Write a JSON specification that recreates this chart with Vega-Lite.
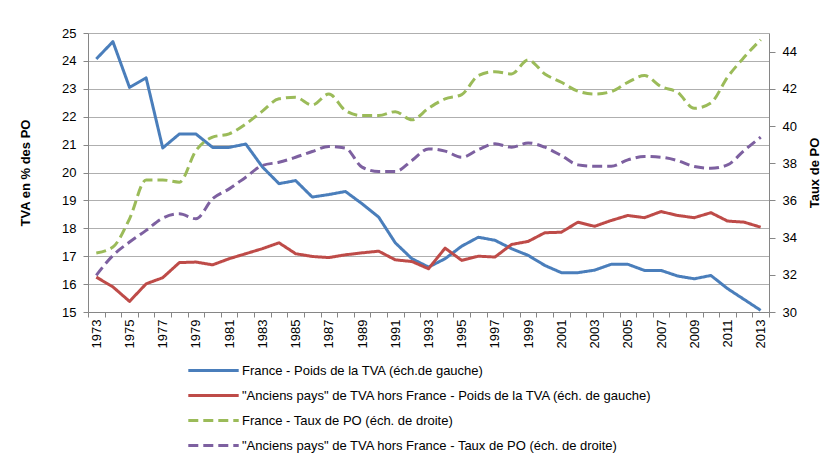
{
  "$schema": "https://vega.github.io/schema/vega-lite/v6.json",
  "autosize": {"type": "none"},
  "padding": {"left": 88, "top": 33, "right": 67, "bottom": 147},
  "width": 681,
  "height": 279,
  "background": "white",
  "config": {
    "view": {"stroke": null},
    "font": "Liberation Sans",
    "axis": {"labelFont": "Liberation Sans", "titleFont": "Liberation Sans", "labelColor": "#000000", "titleColor": "#000000", "labelFontSize": 13, "titleFontSize": 13, "titleFontWeight": "bold", "domainColor": "#868686", "tickColor": "#868686", "gridColor": "#AFAFAF", "gridWidth": 1, "domainWidth": 1, "tickWidth": 1},
    "legend": {"labelFont": "Liberation Sans", "labelFontSize": 13, "labelColor": "#000000"}
  },
  "datasets": {
    "tva": [
      {"year": 1973, "series": "France - Poids de la TVA (éch.de gauche)", "value": 24.07},
      {"year": 1974, "series": "France - Poids de la TVA (éch.de gauche)", "value": 24.69},
      {"year": 1975, "series": "France - Poids de la TVA (éch.de gauche)", "value": 23.05},
      {"year": 1976, "series": "France - Poids de la TVA (éch.de gauche)", "value": 23.39},
      {"year": 1977, "series": "France - Poids de la TVA (éch.de gauche)", "value": 20.88},
      {"year": 1978, "series": "France - Poids de la TVA (éch.de gauche)", "value": 21.38},
      {"year": 1979, "series": "France - Poids de la TVA (éch.de gauche)", "value": 21.38},
      {"year": 1980, "series": "France - Poids de la TVA (éch.de gauche)", "value": 20.9},
      {"year": 1981, "series": "France - Poids de la TVA (éch.de gauche)", "value": 20.9},
      {"year": 1982, "series": "France - Poids de la TVA (éch.de gauche)", "value": 21.02},
      {"year": 1983, "series": "France - Poids de la TVA (éch.de gauche)", "value": 20.2},
      {"year": 1984, "series": "France - Poids de la TVA (éch.de gauche)", "value": 19.6},
      {"year": 1985, "series": "France - Poids de la TVA (éch.de gauche)", "value": 19.71},
      {"year": 1986, "series": "France - Poids de la TVA (éch.de gauche)", "value": 19.12},
      {"year": 1987, "series": "France - Poids de la TVA (éch.de gauche)", "value": 19.21},
      {"year": 1988, "series": "France - Poids de la TVA (éch.de gauche)", "value": 19.32},
      {"year": 1989, "series": "France - Poids de la TVA (éch.de gauche)", "value": 18.88},
      {"year": 1990, "series": "France - Poids de la TVA (éch.de gauche)", "value": 18.4},
      {"year": 1991, "series": "France - Poids de la TVA (éch.de gauche)", "value": 17.48},
      {"year": 1992, "series": "France - Poids de la TVA (éch.de gauche)", "value": 16.91},
      {"year": 1993, "series": "France - Poids de la TVA (éch.de gauche)", "value": 16.61},
      {"year": 1994, "series": "France - Poids de la TVA (éch.de gauche)", "value": 16.91},
      {"year": 1995, "series": "France - Poids de la TVA (éch.de gauche)", "value": 17.36},
      {"year": 1996, "series": "France - Poids de la TVA (éch.de gauche)", "value": 17.68},
      {"year": 1997, "series": "France - Poids de la TVA (éch.de gauche)", "value": 17.57},
      {"year": 1998, "series": "France - Poids de la TVA (éch.de gauche)", "value": 17.27},
      {"year": 1999, "series": "France - Poids de la TVA (éch.de gauche)", "value": 17.03},
      {"year": 2000, "series": "France - Poids de la TVA (éch.de gauche)", "value": 16.67},
      {"year": 2001, "series": "France - Poids de la TVA (éch.de gauche)", "value": 16.41},
      {"year": 2002, "series": "France - Poids de la TVA (éch.de gauche)", "value": 16.41},
      {"year": 2003, "series": "France - Poids de la TVA (éch.de gauche)", "value": 16.5},
      {"year": 2004, "series": "France - Poids de la TVA (éch.de gauche)", "value": 16.71},
      {"year": 2005, "series": "France - Poids de la TVA (éch.de gauche)", "value": 16.71},
      {"year": 2006, "series": "France - Poids de la TVA (éch.de gauche)", "value": 16.49},
      {"year": 2007, "series": "France - Poids de la TVA (éch.de gauche)", "value": 16.49},
      {"year": 2008, "series": "France - Poids de la TVA (éch.de gauche)", "value": 16.29},
      {"year": 2009, "series": "France - Poids de la TVA (éch.de gauche)", "value": 16.19},
      {"year": 2010, "series": "France - Poids de la TVA (éch.de gauche)", "value": 16.31},
      {"year": 2011, "series": "France - Poids de la TVA (éch.de gauche)", "value": 15.84},
      {"year": 2012, "series": "France - Poids de la TVA (éch.de gauche)", "value": 15.45},
      {"year": 2013, "series": "France - Poids de la TVA (éch.de gauche)", "value": 15.06},
      {"year": 1973, "series": "\"Anciens pays\" de TVA hors France - Poids de la TVA (éch. de gauche)", "value": 16.25},
      {"year": 1974, "series": "\"Anciens pays\" de TVA hors France - Poids de la TVA (éch. de gauche)", "value": 15.9},
      {"year": 1975, "series": "\"Anciens pays\" de TVA hors France - Poids de la TVA (éch. de gauche)", "value": 15.38},
      {"year": 1976, "series": "\"Anciens pays\" de TVA hors France - Poids de la TVA (éch. de gauche)", "value": 16.01},
      {"year": 1977, "series": "\"Anciens pays\" de TVA hors France - Poids de la TVA (éch. de gauche)", "value": 16.23},
      {"year": 1978, "series": "\"Anciens pays\" de TVA hors France - Poids de la TVA (éch. de gauche)", "value": 16.77},
      {"year": 1979, "series": "\"Anciens pays\" de TVA hors France - Poids de la TVA (éch. de gauche)", "value": 16.79},
      {"year": 1980, "series": "\"Anciens pays\" de TVA hors France - Poids de la TVA (éch. de gauche)", "value": 16.69},
      {"year": 1981, "series": "\"Anciens pays\" de TVA hors France - Poids de la TVA (éch. de gauche)", "value": 16.91},
      {"year": 1982, "series": "\"Anciens pays\" de TVA hors France - Poids de la TVA (éch. de gauche)", "value": 17.09},
      {"year": 1983, "series": "\"Anciens pays\" de TVA hors France - Poids de la TVA (éch. de gauche)", "value": 17.27},
      {"year": 1984, "series": "\"Anciens pays\" de TVA hors France - Poids de la TVA (éch. de gauche)", "value": 17.48},
      {"year": 1985, "series": "\"Anciens pays\" de TVA hors France - Poids de la TVA (éch. de gauche)", "value": 17.09},
      {"year": 1986, "series": "\"Anciens pays\" de TVA hors France - Poids de la TVA (éch. de gauche)", "value": 16.99},
      {"year": 1987, "series": "\"Anciens pays\" de TVA hors France - Poids de la TVA (éch. de gauche)", "value": 16.95},
      {"year": 1988, "series": "\"Anciens pays\" de TVA hors France - Poids de la TVA (éch. de gauche)", "value": 17.05},
      {"year": 1989, "series": "\"Anciens pays\" de TVA hors France - Poids de la TVA (éch. de gauche)", "value": 17.12},
      {"year": 1990, "series": "\"Anciens pays\" de TVA hors France - Poids de la TVA (éch. de gauche)", "value": 17.18},
      {"year": 1991, "series": "\"Anciens pays\" de TVA hors France - Poids de la TVA (éch. de gauche)", "value": 16.87},
      {"year": 1992, "series": "\"Anciens pays\" de TVA hors France - Poids de la TVA (éch. de gauche)", "value": 16.81},
      {"year": 1993, "series": "\"Anciens pays\" de TVA hors France - Poids de la TVA (éch. de gauche)", "value": 16.55},
      {"year": 1994, "series": "\"Anciens pays\" de TVA hors France - Poids de la TVA (éch. de gauche)", "value": 17.29},
      {"year": 1995, "series": "\"Anciens pays\" de TVA hors France - Poids de la TVA (éch. de gauche)", "value": 16.85},
      {"year": 1996, "series": "\"Anciens pays\" de TVA hors France - Poids de la TVA (éch. de gauche)", "value": 17.0},
      {"year": 1997, "series": "\"Anciens pays\" de TVA hors France - Poids de la TVA (éch. de gauche)", "value": 16.97},
      {"year": 1998, "series": "\"Anciens pays\" de TVA hors France - Poids de la TVA (éch. de gauche)", "value": 17.42},
      {"year": 1999, "series": "\"Anciens pays\" de TVA hors France - Poids de la TVA (éch. de gauche)", "value": 17.53},
      {"year": 2000, "series": "\"Anciens pays\" de TVA hors France - Poids de la TVA (éch. de gauche)", "value": 17.84},
      {"year": 2001, "series": "\"Anciens pays\" de TVA hors France - Poids de la TVA (éch. de gauche)", "value": 17.86},
      {"year": 2002, "series": "\"Anciens pays\" de TVA hors France - Poids de la TVA (éch. de gauche)", "value": 18.22},
      {"year": 2003, "series": "\"Anciens pays\" de TVA hors France - Poids de la TVA (éch. de gauche)", "value": 18.07},
      {"year": 2004, "series": "\"Anciens pays\" de TVA hors France - Poids de la TVA (éch. de gauche)", "value": 18.28},
      {"year": 2005, "series": "\"Anciens pays\" de TVA hors France - Poids de la TVA (éch. de gauche)", "value": 18.46},
      {"year": 2006, "series": "\"Anciens pays\" de TVA hors France - Poids de la TVA (éch. de gauche)", "value": 18.38},
      {"year": 2007, "series": "\"Anciens pays\" de TVA hors France - Poids de la TVA (éch. de gauche)", "value": 18.6},
      {"year": 2008, "series": "\"Anciens pays\" de TVA hors France - Poids de la TVA (éch. de gauche)", "value": 18.46},
      {"year": 2009, "series": "\"Anciens pays\" de TVA hors France - Poids de la TVA (éch. de gauche)", "value": 18.38},
      {"year": 2010, "series": "\"Anciens pays\" de TVA hors France - Poids de la TVA (éch. de gauche)", "value": 18.56},
      {"year": 2011, "series": "\"Anciens pays\" de TVA hors France - Poids de la TVA (éch. de gauche)", "value": 18.26},
      {"year": 2012, "series": "\"Anciens pays\" de TVA hors France - Poids de la TVA (éch. de gauche)", "value": 18.22},
      {"year": 2013, "series": "\"Anciens pays\" de TVA hors France - Poids de la TVA (éch. de gauche)", "value": 18.04}
    ],
    "po": [
      {"year": 1973, "series": "France - Taux de PO (éch. de droite)", "value": 33.17},
      {"year": 1974, "series": "France - Taux de PO (éch. de droite)", "value": 33.49},
      {"year": 1975, "series": "France - Taux de PO (éch. de droite)", "value": 35.01},
      {"year": 1976, "series": "France - Taux de PO (éch. de droite)", "value": 37.1},
      {"year": 1977, "series": "France - Taux de PO (éch. de droite)", "value": 37.1},
      {"year": 1978, "series": "France - Taux de PO (éch. de droite)", "value": 36.98},
      {"year": 1979, "series": "France - Taux de PO (éch. de droite)", "value": 38.68},
      {"year": 1980, "series": "France - Taux de PO (éch. de droite)", "value": 39.4},
      {"year": 1981, "series": "France - Taux de PO (éch. de droite)", "value": 39.58},
      {"year": 1982, "series": "France - Taux de PO (éch. de droite)", "value": 40.11},
      {"year": 1983, "series": "France - Taux de PO (éch. de droite)", "value": 40.8},
      {"year": 1984, "series": "France - Taux de PO (éch. de droite)", "value": 41.46},
      {"year": 1985, "series": "France - Taux de PO (éch. de droite)", "value": 41.54},
      {"year": 1986, "series": "France - Taux de PO (éch. de droite)", "value": 41.13},
      {"year": 1987, "series": "France - Taux de PO (éch. de droite)", "value": 41.72},
      {"year": 1988, "series": "France - Taux de PO (éch. de droite)", "value": 40.83},
      {"year": 1989, "series": "France - Taux de PO (éch. de droite)", "value": 40.56},
      {"year": 1990, "series": "France - Taux de PO (éch. de droite)", "value": 40.56},
      {"year": 1991, "series": "France - Taux de PO (éch. de droite)", "value": 40.77},
      {"year": 1992, "series": "France - Taux de PO (éch. de droite)", "value": 40.33},
      {"year": 1993, "series": "France - Taux de PO (éch. de droite)", "value": 40.95},
      {"year": 1994, "series": "France - Taux de PO (éch. de droite)", "value": 41.46},
      {"year": 1995, "series": "France - Taux de PO (éch. de droite)", "value": 41.69},
      {"year": 1996, "series": "France - Taux de PO (éch. de droite)", "value": 42.71},
      {"year": 1997, "series": "France - Taux de PO (éch. de droite)", "value": 42.92},
      {"year": 1998, "series": "France - Taux de PO (éch. de droite)", "value": 42.8},
      {"year": 1999, "series": "France - Taux de PO (éch. de droite)", "value": 43.55},
      {"year": 2000, "series": "France - Taux de PO (éch. de droite)", "value": 42.8},
      {"year": 2001, "series": "France - Taux de PO (éch. de droite)", "value": 42.35},
      {"year": 2002, "series": "France - Taux de PO (éch. de droite)", "value": 41.87},
      {"year": 2003, "series": "France - Taux de PO (éch. de droite)", "value": 41.72},
      {"year": 2004, "series": "France - Taux de PO (éch. de droite)", "value": 41.85},
      {"year": 2005, "series": "France - Taux de PO (éch. de droite)", "value": 42.35},
      {"year": 2006, "series": "France - Taux de PO (éch. de droite)", "value": 42.71},
      {"year": 2007, "series": "France - Taux de PO (éch. de droite)", "value": 42.12},
      {"year": 2008, "series": "France - Taux de PO (éch. de droite)", "value": 41.81},
      {"year": 2009, "series": "France - Taux de PO (éch. de droite)", "value": 40.95},
      {"year": 2010, "series": "France - Taux de PO (éch. de droite)", "value": 41.24},
      {"year": 2011, "series": "France - Taux de PO (éch. de droite)", "value": 42.62},
      {"year": 2012, "series": "France - Taux de PO (éch. de droite)", "value": 43.69},
      {"year": 2013, "series": "France - Taux de PO (éch. de droite)", "value": 44.64},
      {"year": 1973, "series": "\"Anciens pays\" de TVA hors France - Taux de PO (éch. de droite)", "value": 31.97},
      {"year": 1974, "series": "\"Anciens pays\" de TVA hors France - Taux de PO (éch. de droite)", "value": 33.04},
      {"year": 1975, "series": "\"Anciens pays\" de TVA hors France - Taux de PO (éch. de droite)", "value": 33.76},
      {"year": 1976, "series": "\"Anciens pays\" de TVA hors France - Taux de PO (éch. de droite)", "value": 34.39},
      {"year": 1977, "series": "\"Anciens pays\" de TVA hors France - Taux de PO (éch. de droite)", "value": 35.05},
      {"year": 1978, "series": "\"Anciens pays\" de TVA hors France - Taux de PO (éch. de droite)", "value": 35.28},
      {"year": 1979, "series": "\"Anciens pays\" de TVA hors France - Taux de PO (éch. de droite)", "value": 35.01},
      {"year": 1980, "series": "\"Anciens pays\" de TVA hors France - Taux de PO (éch. de droite)", "value": 36.09},
      {"year": 1981, "series": "\"Anciens pays\" de TVA hors France - Taux de PO (éch. de droite)", "value": 36.62},
      {"year": 1982, "series": "\"Anciens pays\" de TVA hors France - Taux de PO (éch. de droite)", "value": 37.25},
      {"year": 1983, "series": "\"Anciens pays\" de TVA hors France - Taux de PO (éch. de droite)", "value": 37.88},
      {"year": 1984, "series": "\"Anciens pays\" de TVA hors France - Taux de PO (éch. de droite)", "value": 38.05},
      {"year": 1985, "series": "\"Anciens pays\" de TVA hors France - Taux de PO (éch. de droite)", "value": 38.32},
      {"year": 1986, "series": "\"Anciens pays\" de TVA hors France - Taux de PO (éch. de droite)", "value": 38.63},
      {"year": 1987, "series": "\"Anciens pays\" de TVA hors France - Taux de PO (éch. de droite)", "value": 38.9},
      {"year": 1988, "series": "\"Anciens pays\" de TVA hors France - Taux de PO (éch. de droite)", "value": 38.81},
      {"year": 1989, "series": "\"Anciens pays\" de TVA hors France - Taux de PO (éch. de droite)", "value": 37.79},
      {"year": 1990, "series": "\"Anciens pays\" de TVA hors France - Taux de PO (éch. de droite)", "value": 37.55},
      {"year": 1991, "series": "\"Anciens pays\" de TVA hors France - Taux de PO (éch. de droite)", "value": 37.55},
      {"year": 1992, "series": "\"Anciens pays\" de TVA hors France - Taux de PO (éch. de droite)", "value": 38.14},
      {"year": 1993, "series": "\"Anciens pays\" de TVA hors France - Taux de PO (éch. de droite)", "value": 38.77},
      {"year": 1994, "series": "\"Anciens pays\" de TVA hors France - Taux de PO (éch. de droite)", "value": 38.65},
      {"year": 1995, "series": "\"Anciens pays\" de TVA hors France - Taux de PO (éch. de droite)", "value": 38.32},
      {"year": 1996, "series": "\"Anciens pays\" de TVA hors France - Taux de PO (éch. de droite)", "value": 38.73},
      {"year": 1997, "series": "\"Anciens pays\" de TVA hors France - Taux de PO (éch. de droite)", "value": 39.04},
      {"year": 1998, "series": "\"Anciens pays\" de TVA hors France - Taux de PO (éch. de droite)", "value": 38.86},
      {"year": 1999, "series": "\"Anciens pays\" de TVA hors France - Taux de PO (éch. de droite)", "value": 39.09},
      {"year": 2000, "series": "\"Anciens pays\" de TVA hors France - Taux de PO (éch. de droite)", "value": 38.86},
      {"year": 2001, "series": "\"Anciens pays\" de TVA hors France - Taux de PO (éch. de droite)", "value": 38.41},
      {"year": 2002, "series": "\"Anciens pays\" de TVA hors France - Taux de PO (éch. de droite)", "value": 37.91},
      {"year": 2003, "series": "\"Anciens pays\" de TVA hors France - Taux de PO (éch. de droite)", "value": 37.84},
      {"year": 2004, "series": "\"Anciens pays\" de TVA hors France - Taux de PO (éch. de droite)", "value": 37.84},
      {"year": 2005, "series": "\"Anciens pays\" de TVA hors France - Taux de PO (éch. de droite)", "value": 38.18},
      {"year": 2006, "series": "\"Anciens pays\" de TVA hors France - Taux de PO (éch. de droite)", "value": 38.36},
      {"year": 2007, "series": "\"Anciens pays\" de TVA hors France - Taux de PO (éch. de droite)", "value": 38.32},
      {"year": 2008, "series": "\"Anciens pays\" de TVA hors France - Taux de PO (éch. de droite)", "value": 38.14},
      {"year": 2009, "series": "\"Anciens pays\" de TVA hors France - Taux de PO (éch. de droite)", "value": 37.82},
      {"year": 2010, "series": "\"Anciens pays\" de TVA hors France - Taux de PO (éch. de droite)", "value": 37.73},
      {"year": 2011, "series": "\"Anciens pays\" de TVA hors France - Taux de PO (éch. de droite)", "value": 37.91},
      {"year": 2012, "series": "\"Anciens pays\" de TVA hors France - Taux de PO (éch. de droite)", "value": 38.68},
      {"year": 2013, "series": "\"Anciens pays\" de TVA hors France - Taux de PO (éch. de droite)", "value": 39.4}
    ]
  },
  "layer": [
    {
      "data": {"name": "tva"},
      "mark": {"type": "line", "strokeWidth": 3, "strokeJoin": "round"},
      "encoding": {
        "x": {"field": "year", "type": "ordinal", "scale": {"type": "band", "paddingInner": 0, "paddingOuter": 0},
              "axis": {"title": null, "tickBand": "extent", "labelAngle": -90, "labelExpr": "datum.value % 2 == 1 ? datum.label : ''", "tickSize": 5, "labelPadding": 2, "grid": false}},
        "y": {"field": "value", "type": "quantitative", "scale": {"domain": [15, 25], "nice": false, "zero": false},
              "axis": {"title": "TVA en % des PO", "values": [15,16,17,18,19,20,21,22,23,24,25], "grid": true, "tickSize": 5, "labelPadding": 7, "titlePadding": 29}},
        "color": {"field": "series", "type": "nominal",
                  "scale": {"domain": ["France - Poids de la TVA (éch.de gauche)", "\"Anciens pays\" de TVA hors France - Poids de la TVA (éch. de gauche)", "France - Taux de PO (éch. de droite)", "\"Anciens pays\" de TVA hors France - Taux de PO (éch. de droite)"],
                            "range": ["#4A7EBB", "#BE4B48", "#9BBB59", "#7D60A0"]},
                  "legend": {"title": null, "orient": "none", "legendX": 118, "legendY": 330, "direction": "vertical", "symbolType": "M-4.2,0H4.2", "symbolSize": 144, "symbolStrokeWidth": 3, "labelLimit": 600, "rowPadding": 10, "labelOffset": 21, "padding": 0}},
        "strokeDash": {"field": "series", "type": "nominal",
                  "scale": {"domain": ["France - Poids de la TVA (éch.de gauche)", "\"Anciens pays\" de TVA hors France - Poids de la TVA (éch. de gauche)", "France - Taux de PO (éch. de droite)", "\"Anciens pays\" de TVA hors France - Taux de PO (éch. de droite)"],
                            "range": [[1, 0], [1, 0], [10, 5], [10, 5]]},
                  "legend": {"title": null, "orient": "none", "legendX": 118, "legendY": 330, "direction": "vertical", "symbolType": "M-4.2,0H4.2", "symbolSize": 144, "symbolStrokeWidth": 3, "labelLimit": 600, "rowPadding": 10, "labelOffset": 21, "padding": 0}}
      }
    },
    {
      "data": {"name": "po"},
      "mark": {"type": "line", "strokeWidth": 3, "interpolate": "monotone"},
      "encoding": {
        "x": {"field": "year", "type": "ordinal", "scale": {"type": "band", "paddingInner": 0, "paddingOuter": 0},
              "axis": {"title": null, "tickBand": "extent", "labelAngle": -90, "labelExpr": "datum.value % 2 == 1 ? datum.label : ''", "tickSize": 5, "labelPadding": 2, "grid": false}},
        "y": {"field": "value", "type": "quantitative", "scale": {"domain": [30, 45], "nice": false, "zero": false},
              "axis": {"title": "Taux de PO", "orient": "right", "values": [30,32,34,36,38,40,42,44], "grid": false, "tickSize": 6, "labelPadding": 7, "titlePadding": 25, "titleAngle": -90}},
        "color": {"field": "series", "type": "nominal"},
        "strokeDash": {"field": "series", "type": "nominal"}
      }
    }
  ],
  "resolve": {"scale": {"y": "independent"}, "axis": {"y": "independent"}}
}
